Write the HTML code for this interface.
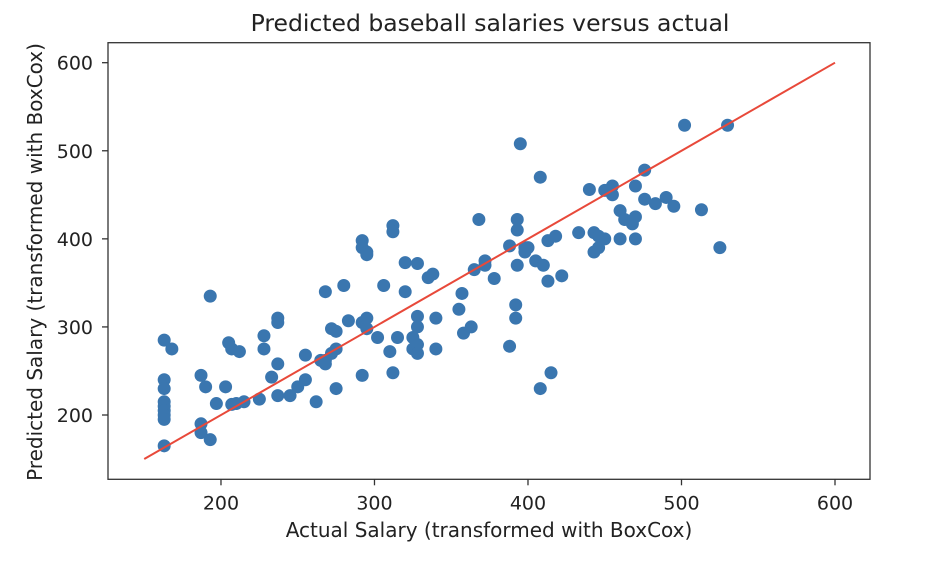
<!DOCTYPE html>
<html><head><meta charset="utf-8"><style>
body{margin:0;background:#fff;}
svg text{font-family:"DejaVu Sans","Liberation Sans",sans-serif;fill:#222;}
</style></head><body>
<svg id="chart" width="928" height="564" viewBox="0 0 928 564" xmlns="http://www.w3.org/2000/svg">
<text x="490" y="31" font-size="23.5" text-anchor="middle">Predicted baseball salaries versus actual</text>
<g id="plot"></g>
<text x="489" y="537" font-size="20" text-anchor="middle">Actual Salary (transformed with BoxCox)</text>
<text x="0" y="0" font-size="20" text-anchor="middle" transform="translate(42,262) rotate(-90)">Predicted Salary (transformed with BoxCox)</text>
</svg>
<script>
const xTicks=[200,300,400,500,600];
const yTicks=[200,300,400,500,600];
const actual=[163,163,163,163,163,163,163,163,163,168,187,187,187,190,193,193,197,203,205,207,207,210,212,215,225,228,228,233,237,237,237,237,245,250,255,255,262,265,268,268,268,272,272,275,275,275,280,283,292,292,292,292,295,295,295,295,302,306,310,312,312,312,315,320,320,325,325,328,328,328,328,328,335,338,340,340,355,357,358,363,365,368,372,372,378,388,388,392,392,393,393,393,395,398,398,400,405,408,408,410,413,413,415,418,422,433,440,443,443,446,446,450,450,455,455,460,460,463,468,470,470,470,476,476,483,490,495,502,513,525,530];
const predicted=[285,240,230,215,210,205,200,195,165,275,245,190,180,232,335,172,213,232,282,275,212,213,272,215,218,290,275,243,310,305,258,222,222,232,268,240,215,262,340,262,258,298,270,295,275,230,347,307,398,390,305,245,385,382,298,310,288,347,272,415,408,248,288,373,340,288,275,372,312,300,280,270,356,360,310,275,320,338,293,300,365,422,370,375,355,392,278,310,325,422,410,370,508,390,385,390,375,470,230,370,398,352,248,403,358,407,456,385,407,390,403,455,400,460,450,432,400,422,417,460,425,400,478,445,440,447,437,529,433,390,529];
const lineX=[150,600];
const L=108,R=870,T=42.7,B=479.3,X0=126.4,X1=622.8,Y0=127,Y1=622.7;
const sx=v=>L+(v-X0)/(X1-X0)*(R-L);
const sy=v=>B-(v-Y0)/(Y1-Y0)*(B-T);
const NS='http://www.w3.org/2000/svg';
const g=document.getElementById('plot');
function mk(t,a){const e=document.createElementNS(NS,t);for(const k in a)e.setAttribute(k,a[k]);g.appendChild(e);return e;}
const frame=mk('rect',{x:L,y:T,width:R-L,height:B-T,fill:'none',stroke:'#333','stroke-width':1.3});


xTicks.forEach(v=>{const x=sx(v);
 const t=mk('line',{x1:x,x2:x,y1:B,y2:B+6,stroke:'#333','stroke-width':1.3});
 
 
 const l=mk('text',{x:x,y:B+30,'font-size':19,'text-anchor':'middle'});l.textContent=v;
 
 });
yTicks.forEach(v=>{const y=sy(v);
 const t=mk('line',{x1:L-6,x2:L,y1:y,y2:y,stroke:'#333','stroke-width':1.3});
 
 
 const l=mk('text',{x:L-15,y:y+7,'font-size':19,'text-anchor':'end'});l.textContent=v;
 
 });
actual.forEach((a,i)=>{const c=mk('circle',{cx:sx(a),cy:sy(predicted[i]),r:6.5,fill:'#3a76af'});
 
 });
const ln=mk('line',{x1:sx(lineX[0]),y1:sy(lineX[0]),x2:sx(lineX[1]),y2:sy(lineX[1]),stroke:'#e8493a','stroke-width':2});


</script>
</body></html>
